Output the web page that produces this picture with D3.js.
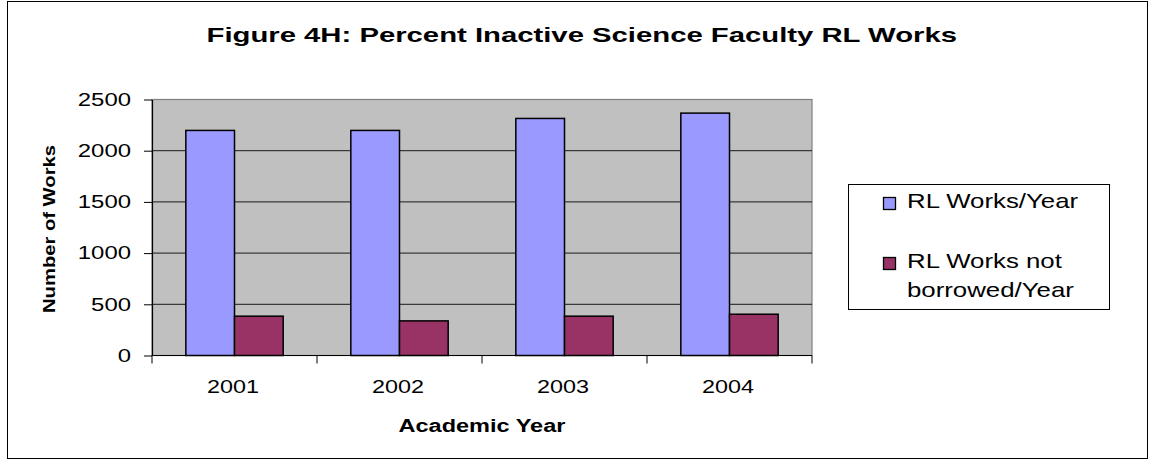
<!DOCTYPE html>
<html><head><meta charset="utf-8">
<script src="https://cdn.jsdelivr.net/npm/d3@7"></script>
<style>body{margin:0;background:#fff}svg{display:block;font-family:"Liberation Sans",Arial,sans-serif}</style>
</head><body><svg id="c" width="1150" height="461"></svg>
<script>
const years = ["2001","2002","2003","2004"];
const seriesNames = ["RL Works/Year","RL Works not borrowed/Year"];
const worksPerYear = [2198, 2198, 2315, 2367];
const notBorrowed = [384, 338, 384, 403];
const yTicks = [0, 500, 1000, 1500, 2000, 2500];
const colors = ["#9999FF", "#993366"];

const svg = d3.select("#c");
svg.append("rect").attr("x",7.5).attr("y",1.5).attr("width",1140).attr("height",457)
  .attr("fill","#fff").attr("stroke","#000").attr("stroke-width",1);

// text helper: horizontally stretched text (the source renders wide glyphs)
function addText(parent, x, y, str, o){
  const g = parent.append("g");
  const t = g.append("text").attr("x",0).attr("y",0)
    .attr("font-size",o.size).attr("font-weight",o.weight||"normal")
    .attr("text-anchor",o.anchor||"start").attr("fill","#000").text(str);
  let sx = o.sx || 1.3;
  if (o.width) sx = o.width / t.node().getComputedTextLength();
  g.attr("transform",`translate(${x},${y})${o.rotate?` rotate(${o.rotate})`:""} scale(${sx},1)`);
  return g;
}

const L=152,R=812,T=99.5,B=355.5;
const x = d3.scaleBand().domain(years).range([L,R]).paddingInner(0.41).paddingOuter(0.205);
const x1 = d3.scaleBand().domain([0,1]).range([0,x.bandwidth()]);
const y = d3.scaleLinear().domain([0,2500]).range([B,T]);

svg.append("rect").attr("x",L).attr("y",T).attr("width",R-L).attr("height",B-T)
  .attr("fill","#C0C0C0").attr("stroke","#808080").attr("stroke-width",1.2);

svg.append("g").selectAll("line").data(yTicks.filter(d=>d>0&&d<2500)).join("line")
  .attr("x1",L).attr("x2",R).attr("y1",d=>y(d)).attr("y2",d=>y(d))
  .attr("stroke","#1a1a1a").attr("stroke-width",1);

const data = years.map((yr,i)=>({yr, vals:[worksPerYear[i], notBorrowed[i]]}));
const g = svg.append("g");
data.forEach(d=>{
  d.vals.forEach((v,j)=>{
    g.append("rect").attr("x",x(d.yr)+x1(j)).attr("y",y(v))
      .attr("width",x1.bandwidth()).attr("height",B-y(v))
      .attr("fill",colors[j]).attr("stroke","#000").attr("stroke-width",1.5);
  });
});

// y axis
const tsx = 1.33;
const ya = svg.append("g").attr("transform",`translate(${L},0)`)
  .call(d3.axisLeft(y).tickValues(yTicks).tickFormat(d3.format("d")).tickSize(8).tickPadding(13).tickSizeOuter(0));
ya.select(".domain").attr("stroke","#000").attr("stroke-width",1.2);
ya.selectAll("text").attr("font-size",18).attr("fill","#000")
  .attr("font-family","Liberation Sans, Arial, sans-serif")
  .attr("x",-21/tsx).attr("transform",`scale(${tsx},1)`);
ya.selectAll("line").attr("stroke","#000");

// x axis
const xa = svg.append("g").attr("transform",`translate(0,${B})`);
xa.append("line").attr("x1",L).attr("x2",R).attr("y1",0).attr("y2",0).attr("stroke","#000").attr("stroke-width",1.2);
const bounds = years.map(yr=>x(yr)-x.step()*x.paddingInner()/2);
bounds.push(R);
xa.selectAll("line.t").data(bounds).join("line").attr("class","t")
  .attr("x1",d=>d).attr("x2",d=>d).attr("y1",0).attr("y2",8).attr("stroke","#000");
years.forEach(yr=>{
  addText(xa, x(yr)+x.bandwidth()/2-1.5, 37.2, yr, {size:18, anchor:"middle", sx:1.3});
});

addText(svg, 206.5, 42.3, "Figure 4H: Percent Inactive Science Faculty RL Works",
  {size:21, weight:"bold", width:751});
addText(svg, 54.5, 313, "Number of Works", {size:16, weight:"bold", width:168, rotate:-90});
addText(svg, 398.5, 432, "Academic Year", {size:18.5, weight:"bold", width:167});

// legend
const lg = svg.append("g");
lg.append("rect").attr("x",848.5).attr("y",184.5).attr("width",261).attr("height",125)
  .attr("fill","#fff").attr("stroke","#000");
const legLines = [["RL Works/Year"],["RL Works not","borrowed/Year"]];
const legY = [208, 268];
legLines.forEach((lines,i)=>{
  lg.append("rect").attr("x",883.5).attr("y",legY[i]-10.5).attr("width",12).attr("height",12)
    .attr("fill",colors[i]).attr("stroke","#000").attr("stroke-width",1.3);
  lines.forEach((t,k)=>{
    addText(lg, 907, legY[i]+k*29, t, {size:20, sx:1.29});
  });
});
</script></body></html>
